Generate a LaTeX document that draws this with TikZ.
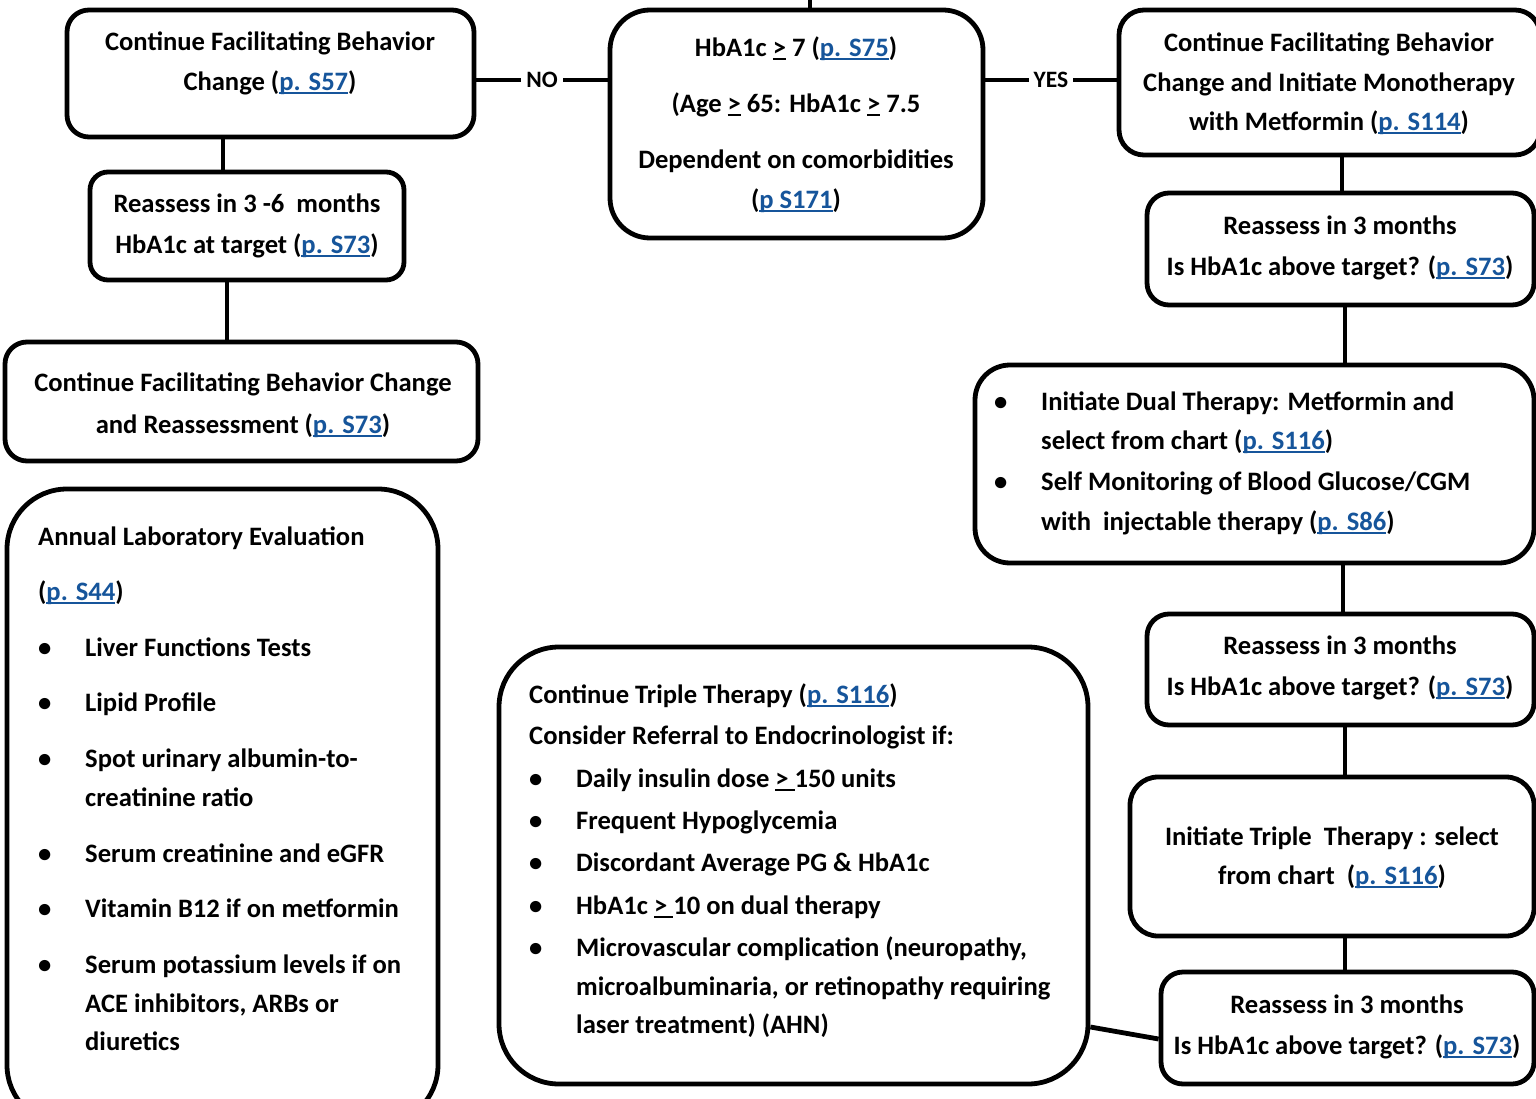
\documentclass[tikz,border=0pt]{standalone}
\usepackage{fontspec}
\setmainfont{Carlito}
\usetikzlibrary{positioning,calc}
\definecolor{linkblue}{RGB}{22,85,155}
\newcommand{\ulin}[1]{\setbox0\hbox{#1}\rlap{\rule[-3.5pt]{\wd0}{1.8pt}}\box0\relax}
\newcommand{\pg}[1]{\textcolor{linkblue}{\ulin{#1}}}
\newcommand{\topstrut}{\rule{0pt}{24pt}}
\newcommand{\blt}{\makebox[47pt][l]{\textbullet}}
\newcommand{\itemgap}{\hspace*{47pt}}

\begin{document}
\begin{tikzpicture}[x=1pt, y=-1pt,
  box/.style={draw=black, line width=4.8pt, fill=white, rounded corners=#1, inner sep=0pt},
  box/.default=22pt,
  txt/.style={font=\bfseries\fontsize{26.6}{40}\selectfont, align=center, inner sep=0pt, anchor=north},
  lst/.style={font=\bfseries\fontsize{26.6}{39}\selectfont, align=left, inner sep=0pt, anchor=north west},
  wire/.style={line width=4.8pt},
  tag/.style={fill=white, font=\bfseries\fontsize{23.5}{26}\selectfont, inner xsep=5pt, inner ysep=2pt}]
\useasboundingbox (0,0) rectangle (1536,1099);
% boxes
\node[box, minimum width=407pt, minimum height=127pt] (nochg) at (270.5,73.5) {};
\node[box=18pt, minimum width=314pt, minimum height=108pt] (chk0) at (247,226) {};
\node[box, minimum width=473pt, minimum height=119pt] (keep) at (241.5,401.5) {};
\node[box=60pt, minimum width=431pt, minimum height=636pt] (annual) at (222.5,807) {};
\node[box=40pt, minimum width=373pt, minimum height=228pt] (target) at (796.5,124) {};
\node[box=25pt, minimum width=421pt, minimum height=145pt] (mono) at (1329.5,82.5) {};
\node[box, minimum width=387pt, minimum height=112pt] (chk1) at (1340.5,249) {};
\node[box=35pt, minimum width=559pt, minimum height=198pt] (dual) at (1254.5,464) {};
\node[box, minimum width=387pt, minimum height=111pt] (chk2) at (1340.5,669.5) {};
\node[box=28pt, minimum width=404pt, minimum height=159pt] (triple) at (1332,856.5) {};
\node[box, minimum width=373pt, minimum height=112pt] (chk3) at (1347.5,1028) {};
\node[box=60pt, minimum width=589pt, minimum height=437pt] (refer) at (793.5,865.5) {};
% texts
\node[txt] (nochgtx) at (270,26) {\topstrut Continue Facilitating Behavior\\Change (\pg{p. S57})};
\node[txt] (chk0tx) at (247,188) {\topstrut Reassess in 3 -6\ \ months\\[1pt]HbA1c at target (\pg{p. S73})};
\node[txt] (keeptx) at (243,367) {\topstrut Continue Facilitating Behavior Change\\[2pt]and Reassessment (\pg{p. S73})};
\node[txt] (targettx) at (796,32) {\topstrut HbA1c \ulin{>} 7 (\pg{p. S75})\\[16pt](Age \ulin{>} 65: HbA1c \ulin{>} 7.5\\[16pt]Dependent on comorbidities\\(\pg{p S171})};
\node[txt] (monotx) at (1329,27) {\topstrut Continue Facilitating Behavior\\Change and Initiate Monotherapy\\[-1pt]with Metformin (\pg{p. S114})};
\node[txt] (chk1tx) at (1340,210) {\topstrut Reassess in 3 months\\[1pt]Is HbA1c above target? (\pg{p. S73})};
\node[lst] (dualtx) at (994,386) {\topstrut\blt Initiate Dual Therapy: Metformin and\\
  \itemgap select from chart (\pg{p. S116})\\[2pt]
  \blt Self Monitoring of Blood Glucose/CGM\\[1pt]
  \itemgap with\ \ injectable therapy (\pg{p. S86})};
\node[txt] (chk2tx) at (1340,630) {\topstrut Reassess in 3 months\\[1pt]Is HbA1c above target? (\pg{p. S73})};
\node[txt] (tripletx) at (1332,821) {\topstrut Initiate Triple\ \ Therapy : select\\[-1pt]from chart\ \ (\pg{p. S116})};
\node[txt] (chk3tx) at (1347,989) {\topstrut Reassess in 3 months\\[1pt]Is HbA1c above target? (\pg{p. S73})};
\node[lst] (refertx) at (529,679) {\topstrut Continue Triple Therapy (\pg{p. S116})\\[2pt]
  Consider Referral to Endocrinologist if:\\[4pt]
  \blt Daily insulin dose \ulin{> }150 units\\[3pt]
  \blt Frequent Hypoglycemia\\[3pt]
  \blt Discordant Average PG \& HbA1c\\[4pt]
  \blt HbA1c \ulin{> }10 on dual therapy\\[3pt]
  \blt Microvascular complication (neuropathy,\\
  \itemgap microalbuminaria, or retinopathy requiring\\[-1pt]
  \itemgap laser treatment) (AHN)};
\node[lst] (annualtx) at (38,521) {\topstrut Annual Laboratory Evaluation\\[16pt]
  (\pg{p. S44})\\[17pt]
  \blt Liver Functions Tests\\[16pt]
  \blt Lipid Profile\\[17pt]
  \blt Spot urinary albumin-to-\\
  \itemgap creatinine ratio\\[17pt]
  \blt Serum creatinine and eGFR\\[16pt]
  \blt Vitamin B12 if on metformin\\[17pt]
  \blt Serum potassium levels if on\\
  \itemgap ACE inhibitors, ARBs or\\[-1pt]
  \itemgap diuretics};
% connectors
\coordinate (entry) at (810,0);
\coordinate (noy) at (0,80);
\draw[wire] (target.north -| entry) -- (entry);
\draw[wire] (nochg.east |- noy) -- node[tag] (notag) {NO} (target.west |- noy);
\draw[wire] (target.east |- noy) -- node[tag] (yestag) {YES} (mono.west |- noy);
\draw[wire] (nochg.south -| 223,0) -- (chk0.north -| 223,0);
\draw[wire] (chk0.south -| 227,0) -- (keep.north -| 227,0);
\draw[wire] (mono.south -| 1342,0) -- (chk1.north -| 1342,0);
\draw[wire] (chk1.south -| 1345,0) -- (dual.north -| 1345,0);
\draw[wire] (dual.south -| 1343,0) -- (chk2.north -| 1343,0);
\draw[wire] (chk2.south -| 1345,0) -- (triple.north -| 1345,0);
\draw[wire] (triple.south -| 1345,0) -- (chk3.north -| 1345,0);
\draw[wire] ([yshift=-11pt]chk3.west) -- (refer.east |- 0,1027);
\end{tikzpicture}
\end{document}
